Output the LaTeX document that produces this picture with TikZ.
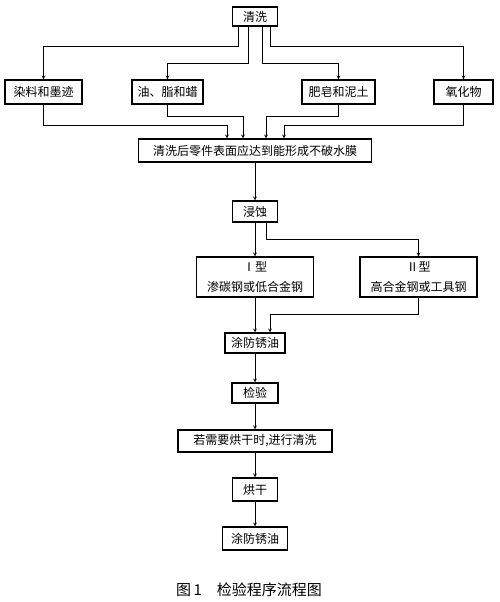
\documentclass[tikz,border=0pt]{standalone}
\usepackage{fontspec}
\setmainfont{Noto Sans CJK SC}
\usepackage{tikz}

\begin{document}
\begin{tikzpicture}[x=1pt, y=-1pt, >=stealth,
    box/.style={draw, line width=1.3pt, inner sep=0pt, font=\fontsize{12}{20}\selectfont, align=center},
    flow/.style={->, line width=0.7pt}]
      \useasboundingbox (0,0) rectangle (500,602);

      \node[box, minimum width=45pt, minimum height=19pt] (wash) at (255,16.5) {清洗};
      \node[box, minimum width=77pt, minimum height=24pt] (dye) at (43.5,92) {染料和墨迹};
      \node[box, minimum width=71pt, minimum height=24pt] (grease) at (167.5,92) {油、脂和蜡};
      \node[box, minimum width=73pt, minimum height=24pt] (soap) at (338.5,92) {肥皂和泥土};
      \node[box, minimum width=59pt, minimum height=24pt] (oxide) at (463.5,92) {氧化物};
      \node[box, minimum width=233pt, minimum height=23pt] (film) at (255,150.5) {清洗后零件表面应达到能形成不破水膜};
      \node[box, minimum width=45pt, minimum height=21pt] (etch) at (255,211.5) {浸蚀};
      \node[box, minimum width=117pt, minimum height=40pt] (typeone) at (255,277) {Ⅰ型\\渗碳钢或低合金钢};
      \node[box, minimum width=117pt, minimum height=40pt] (typetwo) at (418.5,277) {Ⅱ型\\高合金钢或工具钢};
      \node[box, minimum width=60pt, minimum height=20pt] (oilone) at (255,343) {涂防锈油};
      \node[box, minimum width=46pt, minimum height=20pt] (check) at (255,393) {检验};
      \node[box, minimum width=154pt, minimum height=22pt] (rewash) at (255,441) {若需要烘干时,进行清洗};
      \node[box, minimum width=45pt, minimum height=23pt] (dry) at (255,489.5) {烘干};
      \node[box, minimum width=65pt, minimum height=23pt] (oiltwo) at (255,538.5) {涂防锈油};
      \node[font=\fontsize{15}{18}\selectfont] (caption) at (249,590) {图\,1\quad 检验程序流程图};

      \draw[flow] ([xshift=-17pt]wash.south) -- ++(0,20) -| (dye.north);
      \draw[flow] ([xshift=-7pt]wash.south) -- ++(0,37) -| (grease.north);
      \draw[flow] ([xshift=7pt]wash.south) -- ++(0,37) -| (soap.north);
      \draw[flow] ([xshift=15pt]wash.south) -- ++(0,20) -| (oxide.north);

      \draw[flow] (dye.south) -- ++(0,21) -| ([xshift=-28pt]film.north);
      \draw[flow] (grease.south) -- ++(0,12) -| ([xshift=-12pt]film.north);
      \draw[flow] (soap.south) -- ++(0,12) -| ([xshift=11pt]film.north);
      \draw[flow] (oxide.south) -- ++(0,21) -| ([xshift=29pt]film.north);

      \draw[flow] (film) -- (etch);
      \draw[flow] (etch) -- (typeone);
      \draw[flow] ([xshift=11pt]etch.south) -- ++(0,17) -| (typetwo.north);
      \draw[flow] (typeone) -- (oilone);
      \draw[flow] (typetwo.south) -- ++(0,17) -| ([xshift=15pt]oilone.north);
      \draw[flow] (oilone) -- (check);
      \draw[flow] (check) -- (rewash);
      \draw[flow] (rewash) -- (dry);
      \draw[flow] (dry) -- (oiltwo);
    \end{tikzpicture}
\end{document}
